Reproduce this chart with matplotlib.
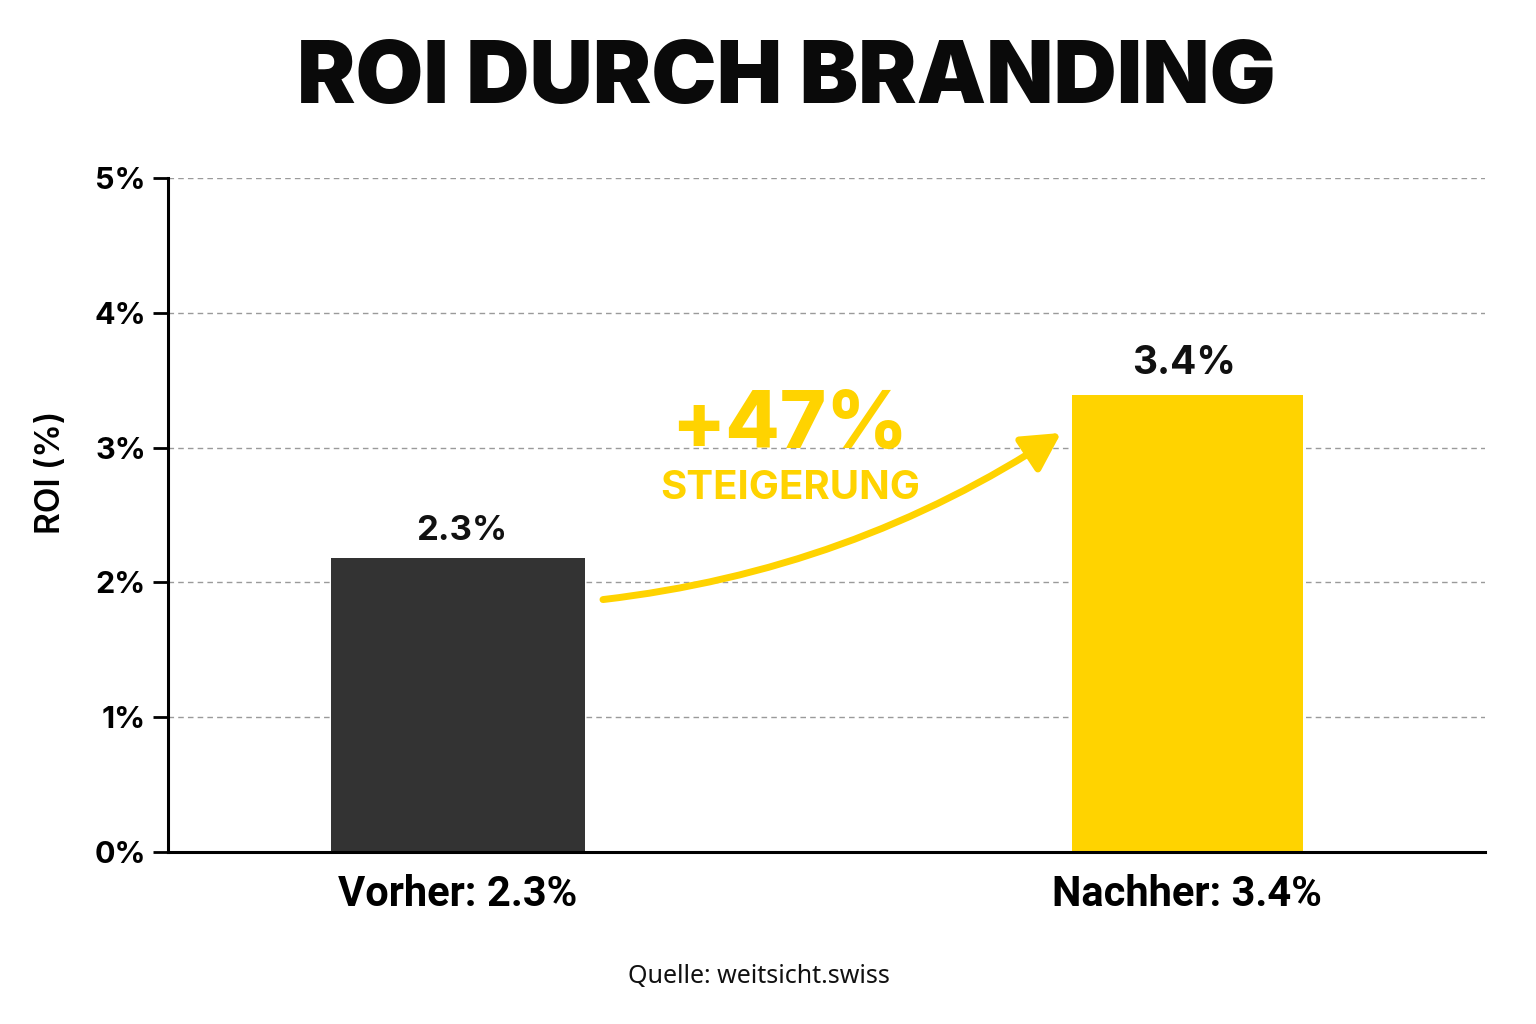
import matplotlib.pyplot as plt

# data
labels = ["Vorher: 2.3%", "Nachher: 3.4%"]
heights = [2.18, 3.39]          # drawn bar heights
value_text = ["2.3%", "3.4%"]
bar_widths = [0.348, 0.317]
bar_colors = ["#333333", "#FFD300"]
yticks = [0, 1, 2, 3, 4, 5]
ytick_labels = ["0%", "1%", "2%", "3%", "4%", "5%"]

yellow = "#FFD300"

fig = plt.figure(figsize=(15.36, 10.24), dpi=100)
ax = fig.add_axes([0.1094, 0.168, 0.8574, 0.6582])

x = [0, 1]
ax.bar(x, heights, width=bar_widths, color=bar_colors, zorder=3)

ax.set_xlim(-0.3975, 1.408)
ax.set_ylim(0, 5)
ax.set_yticks(yticks)
ax.set_yticklabels(ytick_labels, fontfamily="Inter", fontweight="bold", fontsize=22)
ax.set_xticks(x)
ax.set_xticklabels(labels, fontfamily="Roboto", fontweight="bold", fontsize=30)
ax.tick_params(axis="x", length=0, pad=16)
ax.tick_params(axis="y", length=11, width=2, pad=5)

ax.grid(axis="y", linestyle=(0, (4, 3)), color="#9a9a9a", linewidth=1, zorder=0)
for s in ["top", "right"]:
    ax.spines[s].set_visible(False)
ax.spines["left"].set_linewidth(2.2)
ax.spines["bottom"].set_linewidth(2.2)
ax.spines["bottom"].set_zorder(4)

ax.set_ylabel("ROI (%)", fontfamily="Inter", fontweight="semibold", fontsize=24)
ax.yaxis.set_label_coords(-0.077, 0.564)

# value labels
ax.text(x[0] + 0.005, heights[0] + 0.08, value_text[0], ha="center", va="bottom",
        fontfamily="Inter", fontweight="bold", fontsize=25, color="#111111")
ax.text(x[1] - 0.005, heights[1] + 0.1, value_text[1], ha="center", va="bottom",
        fontfamily="Inter", fontweight="bold", fontsize=28, color="#111111")

# arrow
ax.annotate("", xy=(0.83, 3.12), xytext=(0.195, 1.87),
            arrowprops=dict(arrowstyle="-|>,head_length=2.3,head_width=1.25",
                            color=yellow, lw=5,
                            connectionstyle="arc3,rad=0.12"),
            zorder=5)

ax.text(0.455, 3.15, "+47%", ha="center", va="center", fontfamily="Inter",
        fontweight="heavy", fontsize=57, color=yellow)
ax.text(0.455, 2.70, "STEIGERUNG", ha="center", va="center", fontfamily="Inter",
        fontweight="bold", fontsize=29, color=yellow)

fig.text(0.512, 0.921, "ROI DURCH BRANDING", ha="center", va="center",
         fontfamily="Inter", fontweight="black", fontsize=63, color="#0a0a0a")
fig.text(0.494, 0.046, "Quelle: weitsicht.swiss", ha="center", va="center",
         fontfamily="Noto Sans", fontsize=18, color="#111111")

fig.savefig("out.png", dpi=100, facecolor="white")
